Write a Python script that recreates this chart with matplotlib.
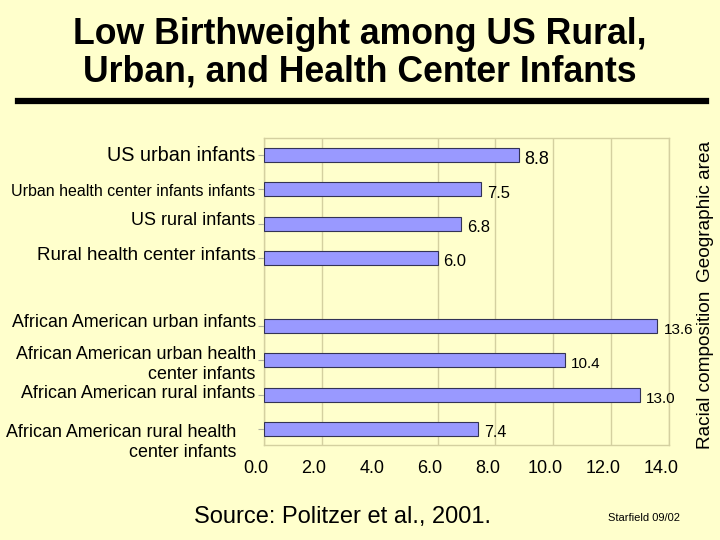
import matplotlib
matplotlib.use("Agg")
import matplotlib.pyplot as plt
from matplotlib.lines import Line2D
from matplotlib.transforms import ScaledTranslation

# ---- data ----
categories = [
    "US urban infants",
    "Urban health center infants infants",
    "US rural infants",
    "Rural health center infants",
    "African American urban infants",
    "African American urban health\ncenter infants",
    "African American rural infants",
    "African American rural health\ncenter infants",
]
values = [8.8, 7.5, 6.8, 6.0, 13.6, 10.4, 13.0, 7.4]
value_labels = ["8.8", "7.5", "6.8", "6.0", "13.6", "10.4", "13.0", "7.4"]
slots = [0, 1, 2, 3, 5, 6, 7, 8]
x_ticks = [0, 2, 4, 6, 8, 10, 12, 14]
x_tick_labels = ["0.0", "2.0", "4.0", "6.0", "8.0", "10.0", "12.0", "14.0"]
grid_values = [0, 2, 6, 8, 10, 12, 14]
title = "Low Birthweight among US Rural,\nUrban, and Health Center Infants"
group_labels = ["Geographic area", "Racial composition"]
source = "Source: Politzer et al., 2001."
credit = "Starfield 09/02"

# ---- style ----
BG = "#FFFFCC"
BAR = "#9999FF"
EDGE = "#333355"
GRID = "#D4D0A0"
label_sizes = [14.3, 11.5, 13, 13.5, 12.9, 12.9, 12.9, 12.9]
label_dx = [0, 0, 0, 0, 0, 0, 0, -19]
label_dy = [2, -1, 5, 4, 6, -1, 3, -10]
value_sizes = [13, 12, 12, 12, 11, 11, 11, 11.5]

plt.rcParams['font.family'] = ['Liberation Sans', 'DejaVu Sans']

fig = plt.figure(figsize=(7.2, 5.4), dpi=100, facecolor=BG)
ax = fig.add_axes([264/720, 1-445/540, (669-264)/720, (445-138)/540])
ax.set_facecolor(BG)

ax.barh(slots, values, height=0.41, color=BAR, edgecolor=EDGE, linewidth=0.8, zorder=3)
for g in grid_values:
    ax.axvline(g, color=GRID, lw=1.0, zorder=1)

ax.set_xlim(0, 14)
ax.set_ylim(8.47, -0.5)

for s, v, t, fs in zip(slots, values, value_labels, value_sizes):
    ax.annotate(t, (v, s), xytext=(6, -4), textcoords='offset pixels',
                ha='left', va='center', fontsize=fs, color='black', zorder=4)

ax.set_yticks(slots)
ax.set_yticklabels(categories)
ax.tick_params(axis='y', length=4, color='#B0B0A0', pad=2)
for lab, fs, dx, dy in zip(ax.get_yticklabels(), label_sizes, label_dx, label_dy):
    lab.set_fontsize(fs)
    lab.set_multialignment('right')
    lab.set_transform(lab.get_transform() + ScaledTranslation(dx/100, dy/100, fig.dpi_scale_trans))

ax.set_xticks(x_ticks)
ax.set_xticklabels(x_tick_labels, fontsize=13)
ax.tick_params(axis='x', length=0, pad=10)
for lab in ax.get_xticklabels():
    lab.set_transform(lab.get_transform() + ScaledTranslation(-8/100, -1/100, fig.dpi_scale_trans))

for sp in ax.spines.values():
    sp.set_color(GRID)
    sp.set_linewidth(1.0)

fig.text(0.5, 1-53/540, title, ha='center', va='center', fontsize=25.7,
         fontweight='bold', linespacing=1.1)
fig.add_artist(Line2D([18/720, 706/720], [1-101/540, 1-101/540], color='black',
                      lw=4.5, transform=fig.transFigure))

fig.text(706/720, 1-212/540, group_labels[0], rotation=90, ha='center', va='center', fontsize=13.7)
fig.text(706/720, 1-370/540, group_labels[1], rotation=90, ha='center', va='center', fontsize=13.7)
fig.text(342/720, 1-517/540, source, ha='center', va='center', fontsize=17)
fig.text(644/720, 1-518/540, credit, ha='center', va='center', fontsize=8)

fig.savefig("out.png", dpi=100, facecolor=BG)
